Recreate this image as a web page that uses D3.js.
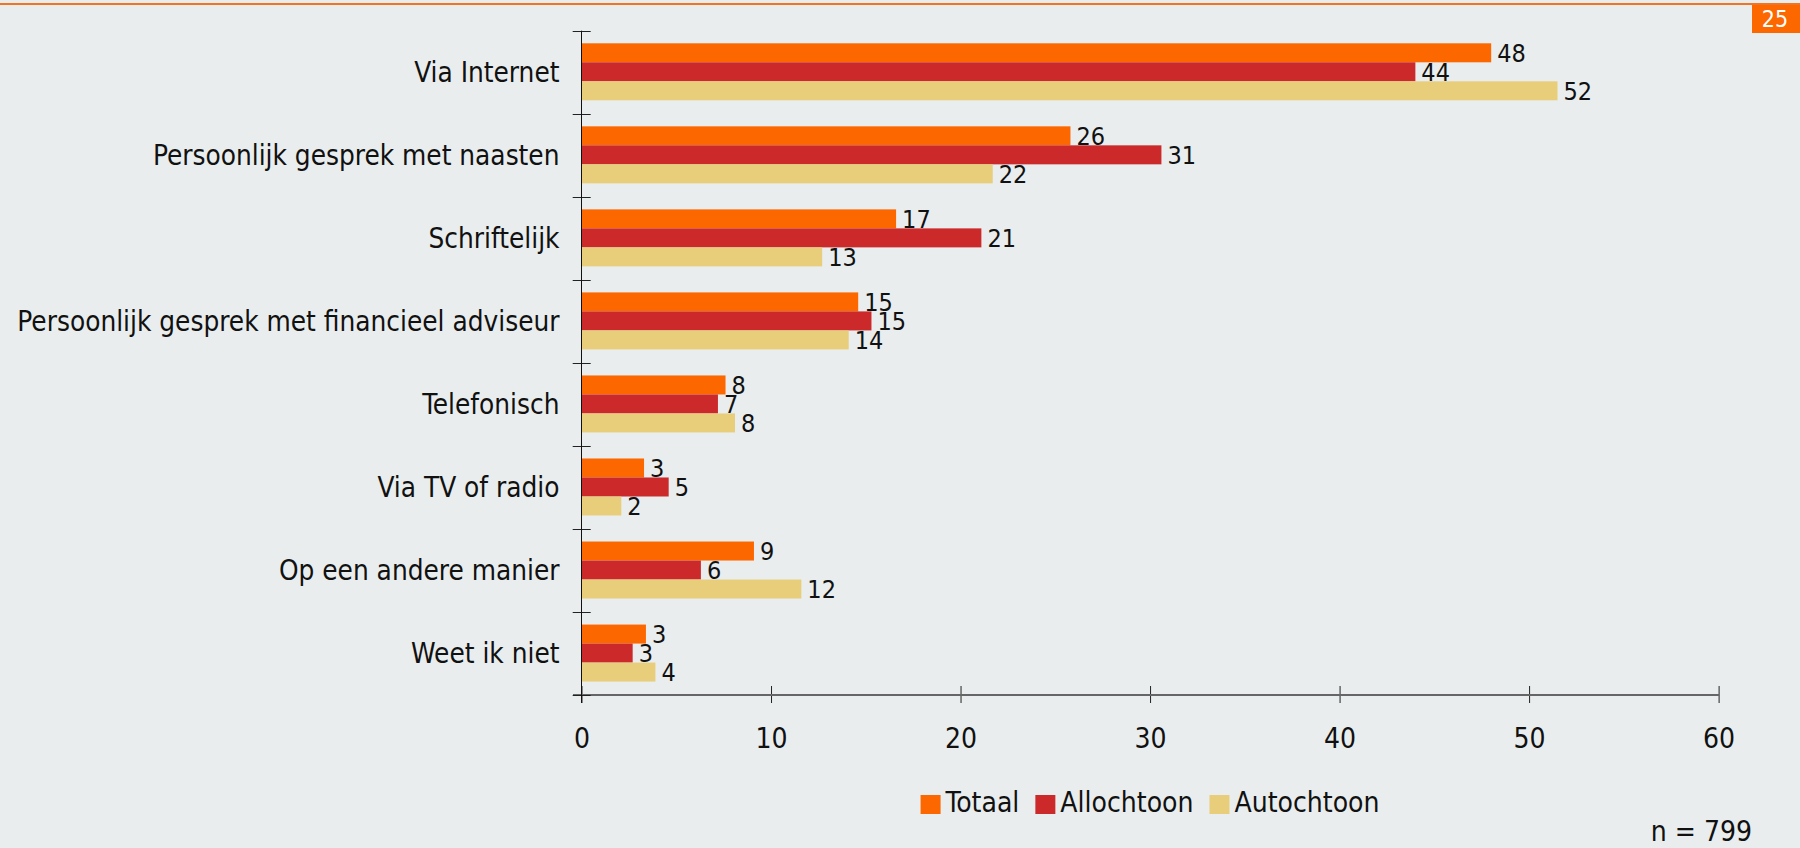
<!DOCTYPE html>
<html>
<head>
<meta charset="utf-8">
<script src="https://cdn.jsdelivr.net/npm/d3@7"></script>
<style>
  html, body { margin: 0; padding: 0; background: #e9edee; }
  svg { display: block; }
</style>
</head>
<body>
<div class="chart"></div>
<script>
var svgWidth = 1800;
var svgHeight = 848;

// data
var categories = [
  "Via Internet",
  "Persoonlijk gesprek met naasten",
  "Schriftelijk",
  "Persoonlijk gesprek met financieel adviseur",
  "Telefonisch",
  "Via TV of radio",
  "Op een andere manier",
  "Weet ik niet"
];
var seriesNames = ["Totaal", "Allochtoon", "Autochtoon"];
var totaal     = [48.0, 25.8, 16.6, 14.6, 7.6, 3.3, 9.1, 3.4];
var allochtoon = [44.0, 30.6, 21.1, 15.3, 7.2, 4.6, 6.3, 2.7];
var autochtoon = [51.5, 21.7, 12.7, 14.1, 8.1, 2.1, 11.6, 3.9];
var xTicks = [0, 10, 20, 30, 40, 50, 60];
var pageNumber = "25";
var sampleNote = "n = 799";

var colors = ["#fd6700", "#cc2a2a", "#e8ce7b"];
var font = "'DejaVu Sans Condensed', 'DejaVu Sans', sans-serif";

var seriesValues = [totaal, allochtoon, autochtoon];

var svg = d3.select(".chart")
  .append("svg")
  .attr("width", svgWidth)
  .attr("height", svgHeight)
  .style("background", "#e9edee");

// orange rule at top + page number box
svg.append("rect")
  .attr("x", 0).attr("y", 3)
  .attr("width", svgWidth).attr("height", 2)
  .attr("fill", "#f07424");

svg.append("rect")
  .attr("x", 1752).attr("y", 5)
  .attr("width", 48).attr("height", 28)
  .attr("fill", "#fd6700");

svg.append("text")
  .attr("x", 1775).attr("y", 27)
  .attr("text-anchor", "middle")
  .attr("fill", "#ffffff")
  .style("font-family", font)
  .style("font-size", "23px")
  .text(pageNumber);

// scales
var x = d3.scaleLinear()
  .domain([0, 60])
  .range([581.5, 1718.6]);

var y0 = d3.scaleBand()
  .domain(categories)
  .range([30.7, 695])
  .padding(0);

var y1 = d3.scaleBand()
  .domain(seriesNames)
  .range([12.6, 12.6 + 57])
  .padding(0);

// rows of data for the bars
var rows = [];
categories.forEach(function(c, i) {
  seriesNames.forEach(function(s, j) {
    rows.push({ cat: c, series: s, value: seriesValues[j][i], color: colors[j] });
  });
});

var chartGroup = svg.append("g");

chartGroup.selectAll("rect.bar")
  .data(rows)
  .enter()
  .append("rect")
  .attr("class", "bar")
  .attr("x", x(0))
  .attr("y", d => y0(d.cat) + y1(d.series))
  .attr("width", d => x(d.value) - x(0))
  .attr("height", y1.bandwidth())
  .attr("fill", d => d.color);

chartGroup.selectAll("text.value")
  .data(rows)
  .enter()
  .append("text")
  .attr("class", "value")
  .attr("x", d => x(d.value) + 6)
  .attr("y", d => y0(d.cat) + y1(d.series) + y1.bandwidth() / 2)
  .attr("dy", "0.36em")
  .attr("fill", "#111")
  .style("font-family", font)
  .style("font-size", "25px")
  .text(d => Math.round(d.value));

// x axis
var bottomAxis = d3.axisBottom(x)
  .tickValues(xTicks)
  .tickSize(8)
  .tickPadding(0);

var xAxis = svg.append("g")
  .attr("transform", "translate(0, 695)")
  .call(bottomAxis);

xAxis.select(".domain").remove();
xAxis.selectAll(".tick line")
  .attr("y1", -9)
  .attr("y2", 8)
  .attr("stroke", "#222");
xAxis.selectAll(".tick text")
  .attr("y", 52.7)
  .attr("dy", null)
  .attr("fill", "#111")
  .style("font-family", font)
  .style("font-size", "28px");

svg.append("line")
  .attr("x1", 573).attr("x2", 1719)
  .attr("y1", 695).attr("y2", 695)
  .attr("stroke", "#666")
  .attr("stroke-width", 2);

// y axis: labels at band centres, ticks at band edges
var leftAxis = d3.axisLeft(y0)
  .tickSize(0)
  .tickPadding(22);

var yAxis = svg.append("g")
  .attr("transform", "translate(581.5, 0)")
  .call(leftAxis);

yAxis.select(".domain").remove();
yAxis.selectAll(".tick text")
  .attr("dy", "0.36em")
  .attr("fill", "#111")
  .style("font-family", font)
  .style("font-size", "27.7px");

var edges = categories.map(c => y0(c)).concat([y0.range()[1]]);

svg.selectAll("line.ytick")
  .data(edges)
  .enter()
  .append("line")
  .attr("class", "ytick")
  .attr("x1", 572.7).attr("x2", 590.7)
  .attr("y1", d => Math.round(d) + 0.5)
  .attr("y2", d => Math.round(d) + 0.5)
  .attr("stroke", "#222");

svg.append("line")
  .attr("x1", 581.5).attr("x2", 581.5)
  .attr("y1", 30.7).attr("y2", 703)
  .attr("stroke", "#111");

// legend
var legend = svg.append("g");
var lx = 0;
seriesNames.forEach(function(s, j) {
  legend.append("rect")
    .attr("x", lx).attr("y", 795)
    .attr("width", 20).attr("height", 19)
    .attr("fill", colors[j]);
  var t = legend.append("text")
    .attr("x", lx + 25).attr("y", 812)
    .attr("fill", "#111")
    .style("font-family", font)
    .style("font-size", "28px")
    .text(s);
  lx += 25 + t.node().getComputedTextLength() + 16;
});
var legendWidth = lx - 16;
legend.attr("transform", `translate(${1150 - legendWidth / 2}, 0)`);

svg.append("text")
  .attr("x", 1752).attr("y", 841)
  .attr("text-anchor", "end")
  .attr("fill", "#111")
  .style("font-family", font)
  .style("font-size", "28px")
  .text(sampleNote);
</script>
</body>
</html>
